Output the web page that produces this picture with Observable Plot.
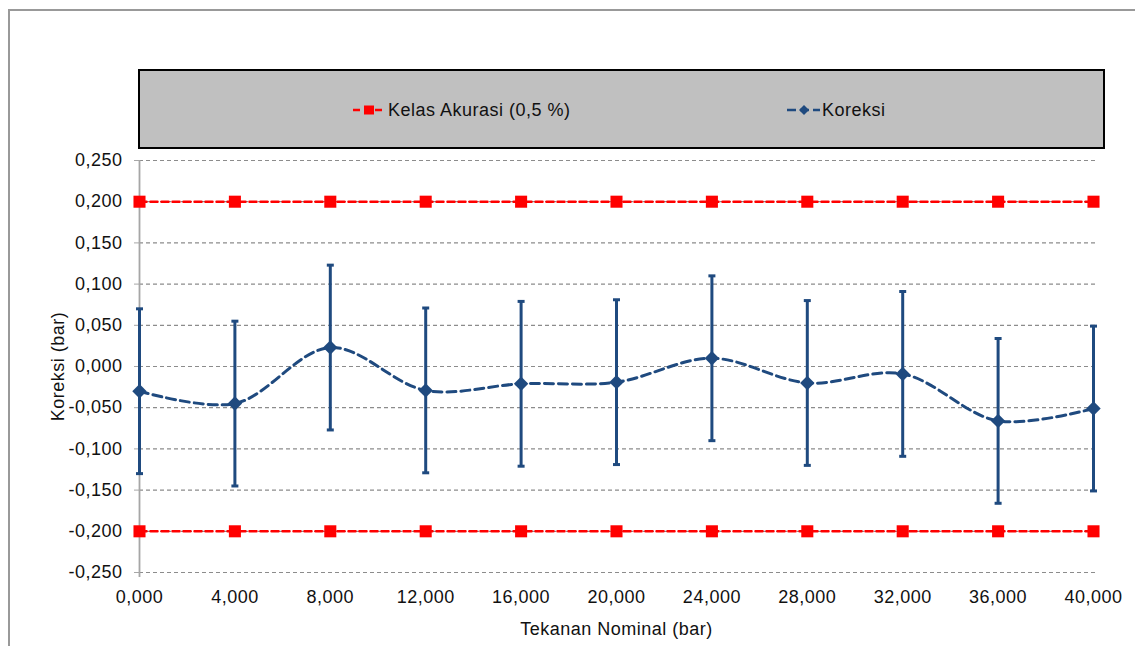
<!DOCTYPE html>
<html>
<head>
<meta charset="utf-8">
<script src="https://cdn.jsdelivr.net/npm/d3@7"></script>
<script src="https://cdn.jsdelivr.net/npm/@observablehq/plot@0.6"></script>
<style>
  html, body { margin: 0; padding: 0; background: #fff; }
  body { width: 1135px; height: 646px; position: relative; overflow: hidden; font-family: "Liberation Sans", Arial, sans-serif; }
  #frame { position: absolute; left: 8px; top: 9px; width: 1140px; height: 660px; border-left: 2px solid #999; border-top: 2px solid #999; box-sizing: border-box; }
  #legend { position: absolute; left: 138px; top: 69px; width: 967px; height: 80px; background: #c0c0c0; border: 2px solid #000; box-sizing: border-box; z-index: 2; }
  .item { position: absolute; top: 28px; height: 22px; display: flex; align-items: center; font-size: 18px; letter-spacing: 0.5px; color: #111; }
  #chart { position: absolute; left: 0; top: 0; }
  #chart svg text { font-size: 18px; letter-spacing: 0.5px; fill: #111; }
</style>
</head>
<body>
<div id="frame"></div>
<div id="legend">
  <div class="item" style="left:212px"><svg width="36" height="14"><line x1="1" y1="7" x2="34" y2="7" stroke="#ff0000" stroke-width="2.5" stroke-dasharray="7,4"/><rect x="12" y="2.5" width="10" height="9" fill="#ff0000"/></svg><span>Kelas Akurasi (0,5 %)</span></div>
  <div class="item" style="left:646px"><svg width="36" height="14"><line x1="1" y1="7" x2="34" y2="7" stroke="#1f4a7f" stroke-width="2.5" stroke-dasharray="9,4"/><path d="M18,2 L23,7 L18,12 L13,7 Z" fill="#1f4a7f"/></svg><span>Koreksi</span></div>
</div>
<div id="chart"></div>
<script>
// Data
const tekanan = [0, 4, 8, 12, 16, 20, 24, 28, 32, 36, 40];
const koreksi = [-0.030, -0.045, 0.023, -0.029, -0.021, -0.019, 0.010, -0.020, -0.009, -0.066, -0.051];
const ketidakpastian = [0.100, 0.100, 0.100, 0.100, 0.100, 0.100, 0.100, 0.100, 0.100, 0.100, 0.100];
const kelasAtas = [0.2, 0.2, 0.2, 0.2, 0.2, 0.2, 0.2, 0.2, 0.2, 0.2, 0.2];
const kelasBawah = [-0.2, -0.2, -0.2, -0.2, -0.2, -0.2, -0.2, -0.2, -0.2, -0.2, -0.2];
const yTicks = [-0.25, -0.2, -0.15, -0.1, -0.05, 0, 0.05, 0.1, 0.15, 0.2, 0.25];
const xTicks = [0, 4, 8, 12, 16, 20, 24, 28, 32, 36, 40];

const rows = tekanan.map((t, i) => ({t, k: koreksi[i], u: ketidakpastian[i], a: kelasAtas[i], b: kelasBawah[i]}));
const fmt = v => d3.format(".3f")(v).replace("\u2212", "-").replace(".", ",");
const blue = "#1f4a7f";
const capSymbol = { draw(ctx, size) { const w = 3.5; ctx.moveTo(-w, 0); ctx.lineTo(w, 0); } };

const plot = Plot.plot({
  width: 1135,
  height: 646,
  marginLeft: 139,
  marginRight: 42,
  marginTop: 160,
  marginBottom: 74,
  style: { fontFamily: "'Liberation Sans', Arial, sans-serif", fontSize: "18px", color: "#111", background: "transparent" },
  x: { domain: [0, 40] },
  y: { domain: [-0.25, 0.25] },
  marks: [
    Plot.ruleY(yTicks, { x1: 0, x2: 40.15, stroke: "#8c8c8c", strokeWidth: 1.2, strokeDasharray: "4,3" }),
    Plot.ruleX([0], { y1: -0.256, y2: 0.25, stroke: "#a6a6a6", strokeWidth: 1.8 }),
    Plot.axisY(yTicks, { tickFormat: fmt, tickSize: 5, tickPadding: 12, stroke: "#a6a6a6", label: "Koreksi (bar)", labelAnchor: "center", labelArrow: "none", labelOffset: 88 }),
    Plot.axisX(xTicks, { tickFormat: fmt, tickSize: 0, tickPadding: 18, label: "Tekanan Nominal (bar)", labelAnchor: "center", labelArrow: "none", labelOffset: 62 }),
    // accuracy class lines
    Plot.line(rows, { x: "t", y: "a", stroke: "#ff0000", strokeWidth: 2.5, strokeDasharray: "7,4" }),
    Plot.line(rows, { x: "t", y: "b", stroke: "#ff0000", strokeWidth: 2.5, strokeDasharray: "7,4" }),
    Plot.dot(rows, { x: "t", y: "a", symbol: "square", r: 6.8, fill: "#ff0000" }),
    Plot.dot(rows, { x: "t", y: "b", symbol: "square", r: 6.8, fill: "#ff0000" }),
    // error bars
    Plot.ruleX(rows, { x: "t", y1: d => d.k - d.u, y2: d => d.k + d.u, stroke: blue, strokeWidth: 3 }),
    Plot.dot(rows, { x: "t", y: d => d.k + d.u, symbol: capSymbol, r: 4, stroke: blue, strokeWidth: 3, fill: "none" }),
    Plot.dot(rows, { x: "t", y: d => d.k - d.u, symbol: capSymbol, r: 4, stroke: blue, strokeWidth: 3, fill: "none" }),
    // correction line
    Plot.line(rows, { x: "t", y: "k", curve: "catmull-rom", stroke: blue, strokeWidth: 3, strokeDasharray: "9,5" }),
    Plot.dot(rows, { x: "t", y: "k", symbol: "diamond2", r: 6.5, fill: blue })
  ]
});
document.getElementById("chart").appendChild(plot);
</script>
</body>
</html>
